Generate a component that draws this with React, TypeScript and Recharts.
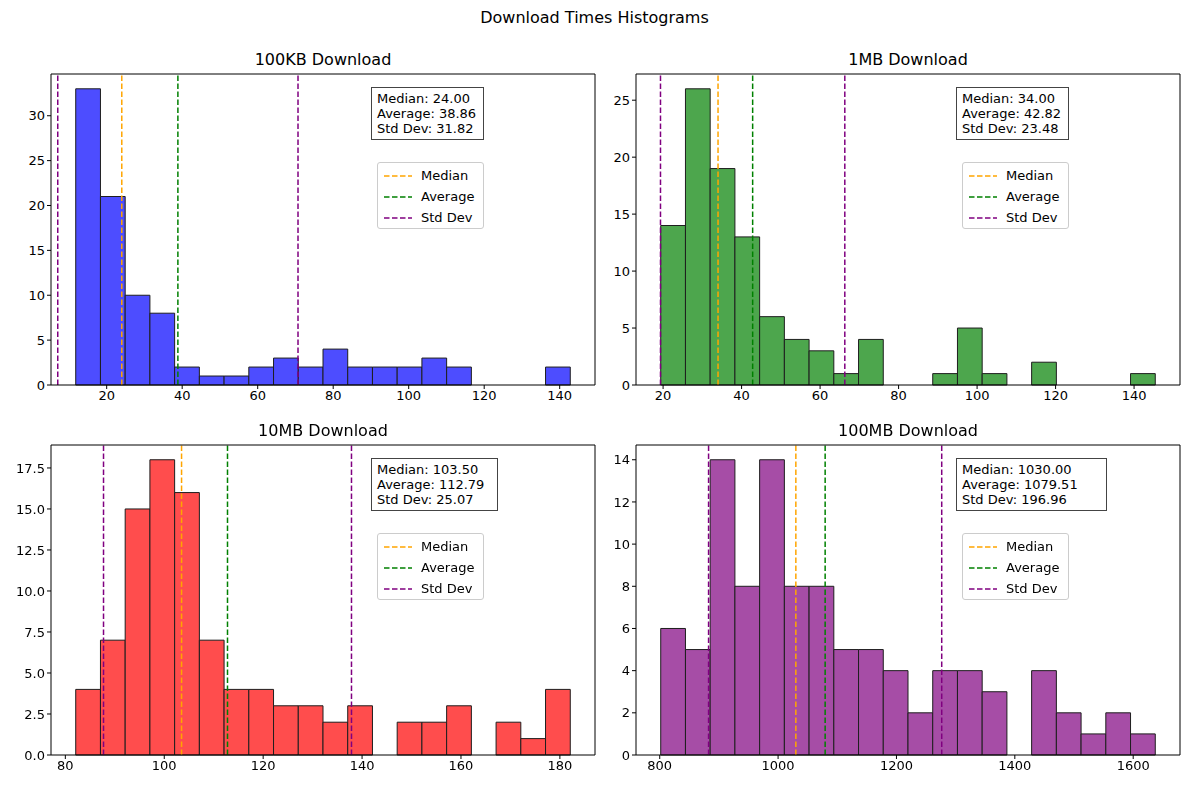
import React from "react";
import { ComposedChart, XAxis, YAxis, ReferenceArea, ReferenceLine, Line } from "recharts";

const counts100KB = [33, 21, 10, 8, 2, 1, 1, 2, 3, 2, 4, 2, 2, 2, 3, 2, 0, 0, 0, 2];
const counts1MB = [14, 26, 19, 13, 6, 4, 3, 1, 4, 0, 0, 1, 5, 1, 0, 2, 0, 0, 0, 1];
const counts10MB = [4, 7, 15, 18, 16, 7, 4, 4, 3, 3, 2, 3, 0, 2, 2, 3, 0, 2, 1, 4];
const counts100MB = [6, 5, 14, 8, 14, 8, 8, 5, 5, 4, 2, 4, 4, 3, 0, 4, 2, 1, 2, 1];
const binRange100KB = [11.8, 142.8];
const binRange1MB = [19.4, 145.4];
const binRange10MB = [82.1, 182.1];
const binRange100MB = [801.7, 1637.3];
const stats100KB = { median: 24.0, average: 38.86, std: 31.82 };
const stats1MB = { median: 34.0, average: 42.82, std: 23.48 };
const stats10MB = { median: 103.5, average: 112.79, std: 25.07 };
const stats100MB = { median: 1030.0, average: 1079.51, std: 196.96 };
const xTicks100KB = [20, 40, 60, 80, 100, 120, 140];
const xTicks1MB = [20, 40, 60, 80, 100, 120, 140];
const xTicks10MB = [80, 100, 120, 140, 160, 180];
const xTicks100MB = [800, 1000, 1200, 1400, 1600];
const yTicks100KB = [0, 5, 10, 15, 20, 25, 30];
const yTicks1MB = [0, 5, 10, 15, 20, 25];
const yTicks10MB = [0, 2.5, 5, 7.5, 10, 12.5, 15, 17.5];
const yTicks100MB = [0, 2, 4, 6, 8, 10, 12, 14];

const FONT = "'DejaVu Sans', sans-serif";

type PanelProps = {
  title: string; counts: number[]; range: number[]; stats: { median: number; average: number; std: number };
  xTicks: number[]; yTicks: number[]; fill: string; left: number; top: number; height: number;
  boxW: number; yFmt?: (v: number) => string;
};

function Panel(p: PanelProps) {
  const bw = (p.range[1] - p.range[0]) / p.counts.length;
  const bins = p.counts.map((c, i) => ({ x0: p.range[0] + i * bw, x1: p.range[0] + (i + 1) * bw, x: p.range[0] + (i + 0.5) * bw, count: c }));
  const lo = p.range[0];
  const hi = p.range[1];
  const m = (hi - lo) * 0.05;
  const ymax = Math.max(...p.counts) * 1.05;
  const tickStyle = { fill: "#000", fontSize: 13, fontFamily: FONT };
  return (
    <div style={{ position: "absolute", left: p.left, top: p.top, width: 600, height: p.height }}>
      <div style={{ position: "absolute", left: 51, width: 544, top: 0, textAlign: "center", fontSize: 16, fontFamily: FONT }}>{p.title}</div>
      <ComposedChart width={600} height={p.height} data={bins} margin={{ top: 24, right: 5, left: 11, bottom: 5 }}>
        <XAxis dataKey="x" type="number" domain={[lo - m, hi + m]} ticks={p.xTicks} allowDataOverflow
          tick={tickStyle} tickSize={4} stroke="#000" height={30} />
        <YAxis type="number" domain={[0, ymax]} ticks={p.yTicks} allowDataOverflow tick={tickStyle} tickSize={4}
          stroke="#000" width={40} tickFormatter={p.yFmt} />
        {bins.map((b, i) => b.count > 0 ? (
          <ReferenceArea key={i} x1={b.x0} x2={b.x1} y1={0} y2={b.count} fill={p.fill} fillOpacity={1}
            stroke="#1e1e1e" strokeWidth={1} ifOverflow="visible" />
        ) : null)}
        <ReferenceLine x={p.stats.median} stroke="orange" strokeDasharray="5.5 2.5" strokeWidth={1.5} />
        <ReferenceLine x={p.stats.average} stroke="green" strokeDasharray="5.5 2.5" strokeWidth={1.5} />
        <ReferenceLine x={p.stats.average - p.stats.std} stroke="purple" strokeDasharray="5.5 2.5" strokeWidth={1.5} />
        <ReferenceLine x={p.stats.average + p.stats.std} stroke="purple" strokeDasharray="5.5 2.5" strokeWidth={1.5} />
        <Line dataKey="count" stroke="none" dot={false} isAnimationActive={false} />
        <ReferenceLine y={ymax} stroke="#000" ifOverflow="visible" />
        <ReferenceLine x={hi + m} stroke="#000" ifOverflow="visible" />
      </ComposedChart>
      <div style={{ position: "absolute", left: 371, top: 37, width: p.boxW, border: "1px solid #444",
        background: "#fff", fontFamily: FONT, fontSize: 13, lineHeight: "15px", padding: "3px 5px", boxSizing: "border-box" }}>
        <div>Median: {p.stats.median.toFixed(2)}</div>
        <div>Average: {p.stats.average.toFixed(2)}</div>
        <div>Std Dev: {p.stats.std.toFixed(2)}</div>
      </div>
      <div style={{ position: "absolute", left: 377, top: 112, width: 107, height: 67, border: "1px solid #ccc", borderRadius: 3,
        background: "#fff", fontFamily: FONT, fontSize: 13, boxSizing: "border-box", padding: "2px 6px" }}>
        {[["Median", "orange"], ["Average", "green"], ["Std Dev", "purple"]].map(([n, c]) => (
          <div key={n} style={{ display: "flex", alignItems: "center", height: 21 }}>
            <svg width={28} height={10} style={{ marginRight: 9 }}><line x1={0} y1={5} x2={28} y2={5} stroke={c} strokeWidth={1.5} strokeDasharray="5.5 2.5" /></svg>
            <span>{n}</span>
          </div>
        ))}
      </div>
    </div>
  );
}

export default function App() {
  return (
    <div style={{ position: "fixed", left: 0, top: 0, width: 1189, height: 789, background: "#fff" }}>
      <div style={{ position: "absolute", top: 8, width: 1189, textAlign: "center", fontSize: 16, fontFamily: FONT }}>Download Times Histograms</div>
      <Panel title="100KB Download" counts={counts100KB} range={binRange100KB} stats={stats100KB} xTicks={xTicks100KB} yTicks={yTicks100KB}
        fill="#4d4dff" left={0} top={50} height={370} boxW={113} />
      <Panel title="1MB Download" counts={counts1MB} range={binRange1MB} stats={stats1MB} xTicks={xTicks1MB} yTicks={yTicks1MB}
        fill="#4da64d" left={585} top={50} height={370} boxW={113} />
      <Panel title="10MB Download" counts={counts10MB} range={binRange10MB} stats={stats10MB} xTicks={xTicks10MB} yTicks={yTicks10MB}
        fill="#ff4d4d" left={0} top={421} height={369} boxW={127} yFmt={(v) => v.toFixed(1)} />
      <Panel title="100MB Download" counts={counts100MB} range={binRange100MB} stats={stats100MB} xTicks={xTicks100MB} yTicks={yTicks100MB}
        fill="#a64da6" left={585} top={421} height={369} boxW={151} />
    </div>
  );
}
